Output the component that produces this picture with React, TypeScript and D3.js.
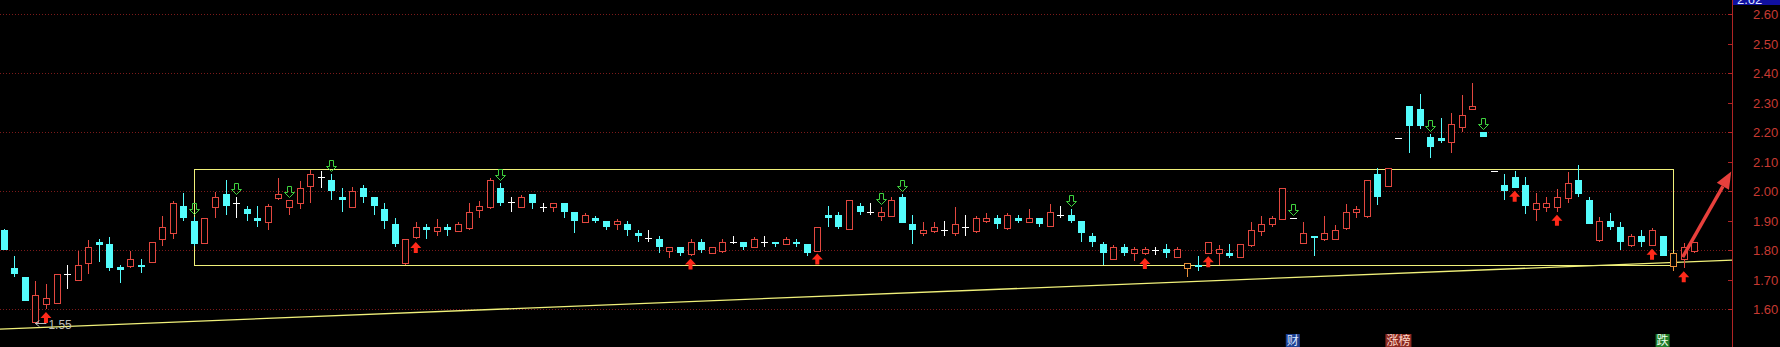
import React from 'react';
import * as d3 from 'd3';

const W = 1780;
const H = 347;

const open = [
  1.868, 1.740, 1.710, 1.557, 1.617, 1.619, 1.718, 1.697, 1.757, 1.826,
  1.819, 1.741, 1.747, 1.750, 1.758, 1.836, 1.856, 1.949, 1.898, 1.823,
  1.947, 1.990, 1.960, 1.939, 1.908, 1.896, 1.977, 1.947, 1.958, 2.018,
  2.047, 2.037, 1.979, 1.947, 2.009, 1.979, 1.939, 1.888, 1.757, 1.845,
  1.877, 1.866, 1.877, 1.866, 1.873, 1.936, 1.947, 2.009, 1.962, 1.947,
  1.990, 1.946, 1.947, 1.958, 1.928, 1.896, 1.910, 1.898, 1.888, 1.888,
  1.858, 1.839, 1.837, 1.798, 1.809, 1.785, 1.826, 1.789, 1.798, 1.828,
  1.826, 1.809, 1.828, 1.826, 1.819, 1.828, 1.819, 1.798, 1.919, 1.919,
  1.870, 1.949, 1.930, 1.915, 1.916, 1.979, 1.888, 1.856, 1.866, 1.868,
  1.856, 1.877, 1.866, 1.898, 1.910, 1.873, 1.910, 1.896, 1.907, 1.882,
  1.919, 1.919, 1.898, 1.847, 1.819, 1.768, 1.811, 1.791, 1.789, 1.800,
  1.802, 1.777, 1.738, 1.749, 1.789, 1.789, 1.789, 1.777, 1.817, 1.866,
  1.887, 1.905, 1.907, 1.825, 1.847, 1.836, 1.836, 1.876, 1.928, 1.915,
  2.058, 2.018, 2.181, 2.288, 2.279, 2.182, 2.181, 2.167, 2.218, 2.277,
  2.200, 2.068, 2.020, 2.047, 2.020, 1.938, 1.947, 1.947, 1.977, 2.037,
  1.969, 1.834, 1.898, 1.879, 1.817, 1.847, 1.817, 1.849, 1.747, 1.768,
  1.797,
];
const high = [
  1.870, 1.780, 1.710, 1.695, 1.685, 1.718, 1.749, 1.797, 1.834, 1.836,
  1.845, 1.749, 1.797, 1.769, 1.826, 1.915, 1.967, 1.992, 1.913, 1.907,
  1.998, 2.037, 1.979, 1.950, 1.949, 1.956, 2.045, 1.970, 2.035, 2.071,
  2.068, 2.056, 2.009, 2.015, 2.020, 1.980, 1.958, 1.907, 1.837, 1.896,
  1.887, 1.905, 1.887, 1.896, 1.958, 1.966, 2.045, 2.026, 1.979, 1.986,
  1.990, 1.958, 1.958, 1.958, 1.930, 1.927, 1.916, 1.898, 1.905, 1.898,
  1.868, 1.868, 1.847, 1.809, 1.809, 1.836, 1.837, 1.809, 1.836, 1.847,
  1.826, 1.845, 1.847, 1.826, 1.845, 1.837, 1.819, 1.877, 1.949, 1.930,
  1.969, 1.960, 1.960, 1.947, 1.979, 1.989, 1.919, 1.896, 1.896, 1.898,
  1.947, 1.919, 1.916, 1.927, 1.919, 1.927, 1.919, 1.938, 1.907, 1.955,
  1.949, 1.938, 1.898, 1.856, 1.828, 1.817, 1.820, 1.811, 1.809, 1.811,
  1.819, 1.809, 1.757, 1.780, 1.826, 1.817, 1.820, 1.819, 1.896, 1.915,
  1.915, 2.009, 1.907, 1.896, 1.847, 1.915, 1.885, 1.956, 1.949, 2.037,
  2.077, 2.077, 2.181, 2.288, 2.328, 2.192, 2.246, 2.263, 2.325, 2.365,
  2.200, 2.068, 2.058, 2.068, 2.046, 1.994, 1.979, 2.006, 2.063, 2.088,
  1.981, 1.913, 1.927, 1.896, 1.854, 1.868, 1.873, 1.849, 1.791, 1.823,
  1.826,
];
const low = [
  1.800, 1.710, 1.627, 1.550, 1.600, 1.619, 1.668, 1.695, 1.719, 1.760,
  1.730, 1.689, 1.740, 1.721, 1.758, 1.814, 1.837, 1.899, 1.814, 1.820,
  1.907, 1.919, 1.910, 1.899, 1.879, 1.868, 1.969, 1.919, 1.939, 1.958,
  2.011, 1.969, 1.930, 1.945, 1.960, 1.919, 1.870, 1.811, 1.749, 1.837,
  1.837, 1.849, 1.849, 1.866, 1.868, 1.907, 1.939, 1.950, 1.930, 1.947,
  1.939, 1.930, 1.930, 1.910, 1.859, 1.890, 1.890, 1.868, 1.868, 1.849,
  1.828, 1.828, 1.791, 1.772, 1.781, 1.781, 1.791, 1.789, 1.789, 1.822,
  1.800, 1.809, 1.811, 1.809, 1.819, 1.809, 1.781, 1.798, 1.879, 1.870,
  1.868, 1.919, 1.919, 1.899, 1.916, 1.890, 1.820, 1.847, 1.856, 1.847,
  1.847, 1.847, 1.859, 1.890, 1.870, 1.868, 1.890, 1.890, 1.879, 1.877,
  1.910, 1.890, 1.828, 1.811, 1.749, 1.768, 1.781, 1.763, 1.783, 1.783,
  1.772, 1.772, 1.707, 1.730, 1.789, 1.749, 1.772, 1.777, 1.811, 1.849,
  1.879, 1.903, 1.907, 1.825, 1.781, 1.830, 1.836, 1.868, 1.910, 1.910,
  1.952, 2.018, 2.181, 2.130, 2.210, 2.111, 2.162, 2.130, 2.201, 2.277,
  2.182, 2.068, 1.969, 2.011, 1.921, 1.899, 1.930, 1.930, 1.960, 1.981,
  1.888, 1.828, 1.868, 1.800, 1.811, 1.811, 1.814, 1.781, 1.730, 1.738,
  1.791,
];
const close = [
  1.800, 1.719, 1.627, 1.647, 1.637, 1.718, 1.718, 1.748, 1.809, 1.818,
  1.740, 1.732, 1.769, 1.741, 1.826, 1.877, 1.960, 1.908, 1.820, 1.907,
  1.979, 1.950, 1.960, 1.921, 1.899, 1.949, 1.989, 1.968, 2.009, 2.058,
  2.047, 2.000, 1.969, 2.000, 1.981, 1.950, 1.899, 1.820, 1.837, 1.877,
  1.869, 1.877, 1.868, 1.887, 1.930, 1.949, 2.037, 1.958, 1.962, 1.979,
  1.960, 1.946, 1.958, 1.930, 1.899, 1.919, 1.899, 1.879, 1.899, 1.868,
  1.849, 1.839, 1.811, 1.809, 1.791, 1.828, 1.800, 1.809, 1.828, 1.828,
  1.811, 1.836, 1.828, 1.819, 1.837, 1.820, 1.791, 1.877, 1.908, 1.877,
  1.969, 1.930, 1.930, 1.930, 1.969, 1.890, 1.868, 1.868, 1.879, 1.868,
  1.887, 1.877, 1.907, 1.910, 1.888, 1.919, 1.898, 1.910, 1.888, 1.930,
  1.919, 1.898, 1.859, 1.828, 1.791, 1.809, 1.791, 1.802, 1.802, 1.800,
  1.791, 1.802, 1.757, 1.741, 1.826, 1.802, 1.781, 1.819, 1.868, 1.887,
  1.907, 2.009, 1.907, 1.856, 1.839, 1.856, 1.868, 1.930, 1.939, 2.037,
  1.981, 2.077, 2.181, 2.220, 2.220, 2.150, 2.171, 2.226, 2.256, 2.288,
  2.182, 2.068, 2.001, 2.011, 1.949, 1.958, 1.958, 1.979, 2.026, 1.990,
  1.888, 1.898, 1.879, 1.828, 1.849, 1.828, 1.868, 1.781, 1.791, 1.809,
  1.826,
];

const buySignals = [4, 39, 65, 77, 108, 114, 143, 147, 156, 159];
const sellSignals = [18, 22, 27, 31, 47, 83, 85, 101, 122, 135, 140];
const highlighted = [112, 158];
const axisTicks = [1.6, 1.7, 1.8, 1.9, 2.0, 2.1, 2.2, 2.3, 2.4, 2.5, 2.6];
const gridTicks = [1.6, 1.8, 2.0, 2.2, 2.4, 2.6];
const boxFrom = 18;
const boxTo = 158;
const boxTop = 2.075;
const boxBottom = 1.748;
const trendIdx = [-0.35, 163.6];
const trendVal = [1.532, 1.766];
const lowMarkIdx = 3;
const lowMarkVal = 1.55;
const arrowIdx = [158.9, 163.5];
const arrowVal = [1.776, 2.066];
const eventIdx = [122, 132, 157];
const eventText = ['财', '涨榜', '跌'];
const eventBg = ['#1d3f8f', '#8a2a22', '#1f7a2a'];
const eventFg = ['#d8e4ff', '#ffd8c8', '#e8ffe8'];
const lastLabel = '2.62';

const UP = '#e2473f';
const DOWN = '#54fcfc';
const FLAT = '#ffffff';
const HL = '#e8903a';
const YEL = '#f0f07a';

export default function App() {
  const n = open.length;
  const x = d3.scaleLinear().domain([0, n - 1]).range([3.7, 1694.3]);
  const y = d3.scaleLinear().domain([1.6, 2.6]).range([309, 14]);
  const axisX = 1732;
  const half = 3.5;

  const candles = d3.range(n).map((i) => {
    const cx = Math.round(x(i)) + 0.5;
    const o = open[i], c = close[i], h = high[i], l = low[i];
    const yh = y(h), yl = y(l), yo = y(o), yc = y(c);
    const hl = highlighted.includes(i);
    if (Math.abs(o - c) < 1e-6) {
      const yy = Math.round(yo) + 0.5;
      return (
        <g key={i} stroke={FLAT} strokeWidth={1}>
          {h - l > 1e-6 && <line x1={cx} x2={cx} y1={yh} y2={yl} />}
          <line x1={cx - half} x2={cx + half} y1={yy} y2={yy} />
        </g>
      );
    }
    if (c > o) {
      const col = hl ? HL : UP;
      const top = Math.round(yc) + 0.5;
      const bot = Math.round(yo) + 0.5;
      return (
        <g key={i} stroke={col} strokeWidth={1} fill="#000">
          <line x1={cx} x2={cx} y1={yh} y2={top} />
          <line x1={cx} x2={cx} y1={bot} y2={yl} />
          <rect x={cx - 3} y={top} width={6} height={Math.max(1, bot - top)} />
        </g>
      );
    }
    const col = hl ? HL : DOWN;
    return (
      <g key={i}>
        <line x1={cx} x2={cx} y1={yh} y2={yl} stroke={col} strokeWidth={1} />
        <rect x={cx - 3.5} y={yo} width={7} height={Math.max(1, yc - yo)} fill={col} />
      </g>
    );
  });

  const buyArrows = buySignals.map((i) => {
    const cx = x(i);
    const t = y(low[i]) + 3;
    const d = `M${cx},${t} L${cx + 5.5},${t + 6} L${cx + 2},${t + 6} L${cx + 2},${t + 11} L${cx - 2},${t + 11} L${cx - 2},${t + 6} L${cx - 5.5},${t + 6} Z`;
    return <path key={i} d={d} fill="#ff2a1a" />;
  });

  const sellArrows = sellSignals.map((i) => {
    const cx = Math.round(x(i)) + 0.5;
    const b = Math.round(y(high[i]) - 3) + 0.5;
    const d = `M${cx},${b} L${cx - 5},${b - 5} L${cx - 2},${b - 5} L${cx - 2},${b - 11} L${cx + 2},${b - 11} L${cx + 2},${b - 5} L${cx + 5},${b - 5} Z`;
    return <path key={i} d={d} fill="none" stroke="#3ed23e" strokeWidth={1} />;
  });

  const ax1 = x(arrowIdx[0]), ay1 = y(arrowVal[0]);
  const ax2 = x(arrowIdx[1]), ay2 = y(arrowVal[1]);
  const ang = Math.atan2(ay2 - ay1, ax2 - ax1);
  const headLen = 17, headW = 7;
  const bx = ax2 - headLen * Math.cos(ang), by = ay2 - headLen * Math.sin(ang);
  const px = -Math.sin(ang), py = Math.cos(ang);

  const lmx = x(lowMarkIdx);
  const lmy = Math.round(y(lowMarkVal)) - 0.5;

  return (
    <svg
      width={W}
      height={H}
      style={{ position: 'absolute', left: 0, top: 0, display: 'block', background: '#000' }}
      fontFamily="'Liberation Sans', Arial, sans-serif"
    >
      <rect x={0} y={0} width={W} height={H} fill="#000" />
      {gridTicks.map((t) => (
        <line key={t} x1={0} x2={axisX} y1={Math.round(y(t)) + 0.5} y2={Math.round(y(t)) + 0.5}
          stroke="#7c1a1a" strokeWidth={1} strokeDasharray="1 2" />
      ))}
      {/* trend line */}
      <line x1={x(trendIdx[0])} y1={y(trendVal[0])} x2={x(trendIdx[1])} y2={y(trendVal[1])} stroke={YEL} strokeWidth={1.3} />
      {/* box */}
      <rect x={Math.round(x(boxFrom)) + 0.5} y={Math.round(y(boxTop)) + 0.5}
        width={Math.round(x(boxTo)) - Math.round(x(boxFrom))}
        height={Math.round(y(boxBottom)) - Math.round(y(boxTop))}
        fill="none" stroke={YEL} strokeWidth={1} />
      <g shapeRendering="crispEdges">{candles}</g>
      {buyArrows}
      {sellArrows}
      {/* low marker */}
      <g stroke="#bdbdbd" fill="none" strokeWidth={1}>
        <line x1={lmx} x2={lmx + 11} y1={lmy} y2={lmy} />
        <path d={`M${lmx + 4},${lmy - 3} L${lmx},${lmy} L${lmx + 4},${lmy + 3}`} />
      </g>
      <text x={lmx + 13} y={lmy + 5.5} fontSize={12} fill="#bdbdbd">{lowMarkVal.toFixed(2)}</text>
      {/* big red arrow */}
      <line x1={ax1} y1={ay1} x2={bx} y2={by} stroke="#e8403c" strokeWidth={3.5} />
      <path d={`M${ax2},${ay2} L${bx + px * headW},${by + py * headW} L${bx - px * headW},${by - py * headW} Z`} fill="#e8403c" />
      {/* axis */}
      <line x1={axisX + 0.5} x2={axisX + 0.5} y1={0} y2={H} stroke="#b02424" strokeWidth={1} />
      {axisTicks.map((t) => (
        <g key={t}>
          <line x1={axisX - 4} x2={axisX} y1={Math.round(y(t)) + 0.5} y2={Math.round(y(t)) + 0.5} stroke="#b02424" />
          <text x={axisX + 21} y={y(t) + 5} fontSize={13} fill="#c83a32">{t.toFixed(2)}</text>
        </g>
      ))}
      <rect x={axisX + 1} y={-12} width={W - axisX - 1} height={17} fill="#1010a0" />
      <text x={axisX + 5} y={4} fontSize={13} fill="#dde4ff">{lastLabel}</text>
      {/* event markers */}
      {eventIdx.map((i, k) => {
        const w = eventText[k].length * 12 + 2;
        const cx = x(i);
        return (
          <g key={i}>
            <rect x={cx - w / 2} y={334} width={w} height={16} fill={eventBg[k]} />
            <text x={cx} y={345} fontSize={12} textAnchor="middle" fill={eventFg[k]}
              fontFamily="'Noto Sans CJK SC', sans-serif">{eventText[k]}</text>
          </g>
        );
      })}
    </svg>
  );
}
